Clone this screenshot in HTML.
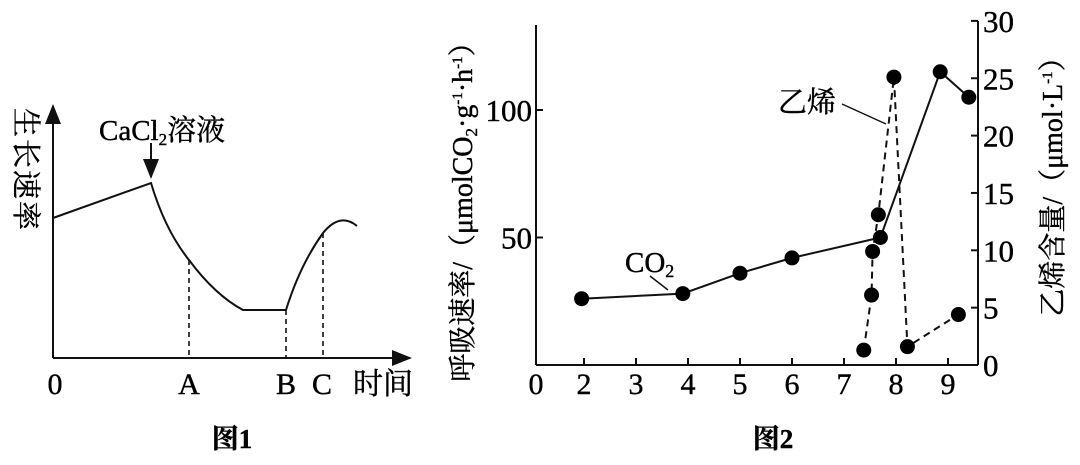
<!DOCTYPE html>
<html><head><meta charset="utf-8"><style>
html,body{margin:0;padding:0;background:#fff;}
svg{display:block;}
text{font-family:"Liberation Serif","Noto Serif CJK SC",serif;fill:#000;stroke:#000;stroke-width:0.4;}
</style></head><body>
<svg width="1080" height="465" viewBox="0 0 1080 465" xmlns="http://www.w3.org/2000/svg">
<defs><marker id="ah" markerWidth="10" markerHeight="10" refX="9" refY="5" orient="auto"><path d="M0,1 L10,5 L0,9 Z" fill="#111"/></marker></defs>
<g stroke="#111" fill="none" stroke-width="2">
  <line x1="53" y1="358" x2="53" y2="106" marker-end="url(#ah)"/>
  <line x1="53" y1="358" x2="410" y2="358" marker-end="url(#ah)"/>
  <path d="M53,218 L151,183 Q165,230 189,260 Q215,295 243,310 L286,310 Q300,265 323,233 Q340,212 357,226"/>
  <g stroke-dasharray="5,4" stroke-width="1.6">
    <line x1="189" y1="260" x2="189" y2="358"/>
    <line x1="286" y1="310" x2="286" y2="358"/>
    <line x1="323" y1="233" x2="323" y2="358"/>
  </g>
  <line x1="151" y1="143" x2="151" y2="177" marker-end="url(#ah)"/>
</g>
<text x="99" y="140" font-size="29">CaCl<tspan font-size="17" dy="5">2</tspan><tspan dy="-5">溶液</tspan></text>
<text x="16" y="170" font-size="29" text-anchor="middle" transform="rotate(90 16 170)" letter-spacing="2">生长速率</text>
<text x="55" y="394" font-size="30" text-anchor="middle">0</text>
<text x="189" y="394" font-size="30" text-anchor="middle">A</text>
<text x="286" y="394" font-size="30" text-anchor="middle">B</text>
<text x="322" y="394" font-size="30" text-anchor="middle">C</text>
<text x="383" y="394" font-size="30" text-anchor="middle">时间</text>
<text x="232" y="448" font-size="27" font-weight="bold" text-anchor="middle">图1</text>
<g id="fig2"></g>
<text x="472" y="205" font-size="28" text-anchor="middle" transform="rotate(-90 472 205)">呼吸速率/（μmolCO<tspan font-size="17" dy="5">2</tspan><tspan dy="-5">·g</tspan><tspan font-size="15" dy="-10">-1</tspan><tspan dy="10">·h</tspan><tspan font-size="15" dy="-10">-1</tspan><tspan dy="10">）</tspan></text>
<text x="1062" y="180" font-size="28" text-anchor="middle" transform="rotate(-90 1062 180)">乙烯含量/（μmol·L<tspan font-size="15" dy="-10">-1</tspan><tspan dy="10">）</tspan></text>
<text x="625" y="272" font-size="29">CO<tspan font-size="18" dy="5">2</tspan></text>
<line x1="650" y1="276" x2="668" y2="290" stroke="#111" stroke-width="1.5"/>
<text x="778" y="112" font-size="29">乙烯</text>
<line x1="842" y1="104" x2="886" y2="124" stroke="#111" stroke-width="1.5"/>
<text x="773" y="448" font-size="27" font-weight="bold" text-anchor="middle">图2</text>
</svg>
<script>
const xTicks=[0,2,3,4,5,6,7,8,9];
const leftTicks=[50,100];
const rightTicks=[0,5,10,15,20,25,30];
const co2X=[1.9,3.9,5,6,7.7,8.85,9.4];
const co2Y=[26,28,36,42,50,115,105];
const ethX=[7.38,7.53,7.55,7.66,7.96,8.22,9.2];
const ethY=[1.3,6.1,9.9,13.1,25.1,1.6,4.4];
const NS='http://www.w3.org/2000/svg';
const g=document.getElementById('fig2');
function xs(v){return v<2?536+v*24:584+(v-2)*52;}
function yl(v){return 365-v*2.55;}
function yr(v){return 365-v*11.47;}
function mk(t,a,p){const e=document.createElementNS(NS,t);for(const k in a)e.setAttribute(k,a[k]);(p||g).appendChild(e);return e;}
let e;
e=mk('line',{x1:536,y1:365,x2:978,y2:365,stroke:'#111','stroke-width':2});


e=mk('line',{x1:536,y1:365,x2:536,y2:25,stroke:'#111','stroke-width':2});


e=mk('line',{x1:978,y1:365,x2:978,y2:yr(30),stroke:'#111','stroke-width':2});


xTicks.forEach(v=>{
  const x=xs(v);
  if(v>0){e=mk('line',{x1:x,y1:365,x2:x,y2:358,stroke:'#111','stroke-width':2});
  
  }
  e=mk('text',{x:x,y:394,'font-size':30,'text-anchor':'middle'});e.textContent=v;
  
  
});
leftTicks.forEach(v=>{
  const y=yl(v);
  e=mk('line',{x1:536,y1:y,x2:543,y2:y,stroke:'#111','stroke-width':2});
  
  
  e=mk('text',{x:532,y:y+11,'font-size':31,'text-anchor':'end'});e.textContent=v;
  
  
});
rightTicks.forEach(v=>{
  const y=yr(v);
  e=mk('line',{x1:971,y1:y,x2:978,y2:y,stroke:'#111','stroke-width':2});
  
  
  e=mk('text',{x:983,y:y+11,'font-size':31,'text-anchor':'start'});e.textContent=v;
  
  
});
e=mk('polyline',{points:co2X.map((x,i)=>xs(x)+','+yl(co2Y[i])).join(' '),fill:'none',stroke:'#111','stroke-width':2});


e=mk('polyline',{points:ethX.map((x,i)=>xs(x)+','+yr(ethY[i])).join(' '),fill:'none',stroke:'#111','stroke-width':2,'stroke-dasharray':'7,5'});


co2X.forEach((x,i)=>{e=mk('circle',{cx:xs(x),cy:yl(co2Y[i]),r:7.5,fill:'#000'});

});
ethX.forEach((x,i)=>{e=mk('circle',{cx:xs(x),cy:yr(ethY[i]),r:7.5,fill:'#000'});

});
</script>
</body></html>
